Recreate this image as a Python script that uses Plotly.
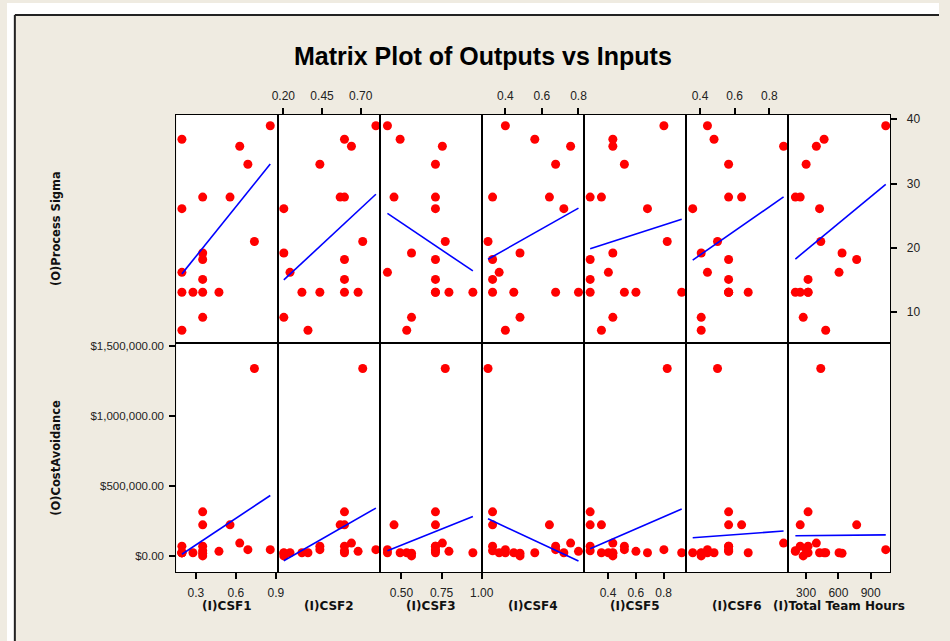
import numpy as np
import plotly.graph_objects as go

# ---------------- data ----------------
process_sigma = [39.0, 36.9, 35.8, 33.0, 27.9, 27.9, 26.1, 21.0, 19.2, 18.2,
                 16.2, 15.1, 13.1, 13.1, 13.1, 13.1, 9.2, 7.2]
cost_avoidance = [48000, 26000, 95000, 48000, 40000, 225000, 26000, 1342000, 22000, 225000,
                  26000, 318000, 73000, 26000, 73000, 36000, 3000, 26000]
csf1 = [0.858, 0.195, 0.629, 0.690, 0.351, 0.556, 0.195, 0.739, 0.351, 0.351,
        0.195, 0.351, 0.351, 0.278, 0.195, 0.473, 0.351, 0.195]
csf2 = [0.798, 0.595, 0.640, 0.436, 0.595, 0.567, 0.203, 0.713, 0.203, 0.595,
        0.243, 0.595, 0.595, 0.320, 0.436, 0.683, 0.203, 0.359]
csf3 = [0.413, 0.492, 0.755, 0.712, 0.712, 0.454, 0.712, 0.773, 0.563, 0.712,
        0.413, 0.712, 0.712, 0.945, 0.712, 0.796, 0.563, 0.533]
csf4 = [0.400, 0.561, 0.757, 0.675, 0.330, 0.641, 0.720, 0.305, 0.480, 0.330,
        0.366, 0.330, 0.330, 0.446, 0.675, 0.800, 0.480, 0.400]
csf5 = [0.802, 0.435, 0.435, 0.518, 0.272, 0.353, 0.684, 0.826, 0.435, 0.272,
        0.403, 0.272, 0.272, 0.930, 0.518, 0.601, 0.435, 0.353]
csf6 = [0.443, 0.481, 0.882, 0.565, 0.565, 0.640, 0.358, 0.501, 0.407, 0.565,
        0.443, 0.565, 0.565, 0.678, 0.565, 0.565, 0.407, 0.407]
total_team_hours = [1040, 467, 395, 300, 200, 245, 425, 436, 634, 770,
                    606, 318, 245, 318, 318, 200, 273, 482]

input_names = ["(I)CSF1", "(I)CSF2", "(I)CSF3", "(I)CSF4", "(I)CSF5", "(I)CSF6",
               "(I)Total Team Hours"]
output_names = ["(O)Process Sigma", "(O)CostAvoidance"]

x_tickvals = [[0.3, 0.6, 0.9], [0.20, 0.45, 0.70], [0.50, 0.75, 1.00], [0.4, 0.6, 0.8],
              [0.4, 0.6, 0.8], [0.4, 0.6, 0.8], [300, 600, 900]]
x_ticktext = [["0.3", "0.6", "0.9"], ["0.20", "0.45", "0.70"], ["0.50", "0.75", "1.00"],
              ["0.4", "0.6", "0.8"], ["0.4", "0.6", "0.8"], ["0.4", "0.6", "0.8"],
              ["300", "600", "900"]]
sigma_tickvals = [10, 20, 30, 40]
cost_tickvals = [0, 500000, 1000000, 1500000]
cost_ticktext = ["$0.00", "$500,000.00", "$1,000,000.00", "$1,500,000.00"]

# ---------------- layout geometry ----------------
W, H = 950, 641
inputs = [csf1, csf2, csf3, csf4, csf5, csf6, total_team_hours]
outputs = [process_sigma, cost_avoidance]
x_ranges = [[0.154, 0.919], [0.168, 0.827], [0.369, 1.004], [0.274, 0.832],
            [0.23, 0.963], [0.321, 0.909], [134, 1082]]
y_ranges = [[5.2, 40.7], [-114000, 1523500]]

left_px, right_px = 172.7, 900.3
pw = (right_px - left_px) / 7
row_px = [(112.3, 341.7), (341.7, 572.0)]

TICKFONT = dict(family="Liberation Sans, Arial, sans-serif", size=12, color="#222")
COSTFONT = dict(family="Liberation Sans, Arial, sans-serif", size=11.5, color="#222")
LBLFONT = dict(family="DejaVu Sans, Verdana, sans-serif", size=12, color="#111")

fig = go.Figure()
layout = {}
for r in range(2):
    for c in range(7):
        k = r * 7 + c + 1
        xa = "x" if k == 1 else f"x{k}"
        ya = "y" if k == 1 else f"y{k}"
        xs = np.array(inputs[c], dtype=float)
        ys = np.array(outputs[r], dtype=float)
        fig.add_trace(go.Scatter(x=xs, y=ys, mode="markers", xaxis=xa, yaxis=ya,
                                 marker=dict(color="#FF0000", size=9), showlegend=False,
                                 hoverinfo="skip"))
        coef = np.polyfit(xs, ys, 1)
        lx = np.array([xs.min(), xs.max()])
        fig.add_trace(go.Scatter(x=lx, y=np.polyval(coef, lx), mode="lines", xaxis=xa, yaxis=ya,
                                 line=dict(color="#0000FF", width=1.6), showlegend=False,
                                 hoverinfo="skip"))
        x0 = (left_px + c * pw) / W
        x1 = (left_px + (c + 1) * pw) / W
        ytop, ybot = row_px[r]
        xaxis = dict(domain=[x0, x1], range=x_ranges[c], anchor=ya, showgrid=False,
                     zeroline=False, showline=True, mirror=True, linecolor="#000",
                     linewidth=1.3, fixedrange=True, tickfont=TICKFONT)
        yaxis = dict(domain=[1 - ybot / H, 1 - ytop / H], range=y_ranges[r], anchor=xa,
                     showgrid=False, zeroline=False, showline=True, mirror=True,
                     linecolor="#000", linewidth=1.3, fixedrange=True, tickfont=TICKFONT)
        if (c % 2 == 0 and r == 1) or (c % 2 == 1 and r == 0):
            xaxis.update(ticks="outside", ticklen=6, tickwidth=1.5, tickcolor="#000",
                         tickvals=x_tickvals[c], ticktext=x_ticktext[c],
                         ticklabelstandoff=3,
                         side="bottom" if r == 1 else "top", showticklabels=True)
        else:
            xaxis.update(ticks="", showticklabels=False)
        if r == 0 and c == 6:
            yaxis.update(side="right", ticks="outside", ticklen=6, tickwidth=1.5,
                         tickcolor="#000", tickvals=sigma_tickvals, showticklabels=True,
                         ticklabelstandoff=7)
        elif r == 1 and c == 0:
            yaxis.update(side="left", ticks="outside", ticklen=6, tickwidth=1.5,
                         tickcolor="#000", tickvals=cost_tickvals, ticktext=cost_ticktext,
                         showticklabels=True, ticklabelstandoff=3, tickfont=COSTFONT)
        else:
            yaxis.update(ticks="", showticklabels=False)
        layout["xaxis" if k == 1 else f"xaxis{k}"] = xaxis
        layout["yaxis" if k == 1 else f"yaxis{k}"] = yaxis

annotations = [dict(text="<b>Matrix Plot of Outputs vs Inputs</b>", x=485 / W, y=1 - 53 / H,
                    xref="paper", yref="paper", showarrow=False, xanchor="center",
                    yanchor="middle",
                    font=dict(family="Liberation Sans, Arial, sans-serif", size=25,
                              color="#000"))]
for c, name in enumerate(input_names):
    annotations.append(dict(text="<b>" + name + "</b>", x=(left_px + (c + 0.5) * pw) / W,
                            y=1 - 606 / H, xref="paper", yref="paper", showarrow=False,
                            xanchor="center", yanchor="middle", font=LBLFONT))
for r, name in enumerate(output_names):
    ymid = (row_px[r][0] + row_px[r][1]) / 2
    annotations.append(dict(text="<b>" + name + "</b>", x=50 / W, y=1 - ymid / H,
                            xref="paper", yref="paper", showarrow=False, textangle=-90,
                            xanchor="center", yanchor="middle",
                            font=dict(family="DejaVu Sans, Verdana, sans-serif", size=11.5,
                                      color="#111")))

shapes = [
    dict(type="rect", xref="paper", yref="paper", x0=0, x1=1, y0=1 - 12 / H, y1=1,
         fillcolor="white", line=dict(width=0), layer="above"),
    dict(type="rect", xref="paper", yref="paper", x0=0, x1=8 / W, y0=0, y1=1,
         fillcolor="white", line=dict(width=0), layer="above"),
    dict(type="line", xref="paper", yref="paper", x0=8 / W, x1=8 / W, y0=0, y1=1 - 12 / H,
         line=dict(color="#222", width=2), layer="above"),
    dict(type="line", xref="paper", yref="paper", x0=8 / W, x1=1, y0=1 - 12 / H,
         y1=1 - 12 / H, line=dict(color="#222", width=2), layer="above"),
]

fig.update_layout(width=W, height=H, margin=dict(l=0, r=0, t=0, b=0),
                  paper_bgcolor="#EFEBE1", plot_bgcolor="white", showlegend=False,
                  annotations=annotations, shapes=shapes, **layout)
fig.write_html("out.html", config={"displayModeBar": False},
               post_script="document.body.style.margin='0';document.body.style.overflow='hidden';")
